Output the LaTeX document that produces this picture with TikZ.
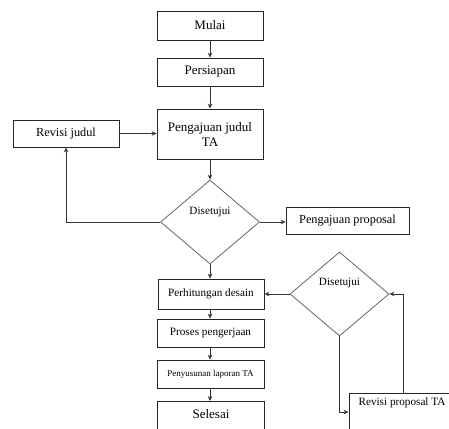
\documentclass[tikz,border=0pt]{standalone}
\usepackage{fontspec}
\setmainfont{Liberation Serif}
\usetikzlibrary{shapes.geometric,arrows.meta}
\begin{document}
\begin{tikzpicture}[x=1pt,y=-1pt,
  box/.style={draw=black!85,line width=0.8pt,rectangle,inner sep=0pt,font=\fontsize{13}{14}\selectfont},
  dia/.style={draw=black!60,line width=0.8pt,diamond,inner sep=0pt,aspect=1.2},
  lbl/.style={inner sep=0pt,font=\fontsize{11.2}{13}\selectfont},
  conn/.style={draw=black!80,line width=0.8pt,-{Stealth[length=5pt,width=4.5pt]}},
  line/.style={draw=black!70,line width=0.8pt}]
\useasboundingbox (0,0) rectangle (449,428);
\clip (0,0) rectangle (449,428);
\fill[white] (0,0) rectangle (449,428);
% boxes
\node[box,minimum width=106,minimum height=29] (mulai) at (210,25.5) {Mulai};
\node[box,minimum width=106,minimum height=28] (persiapan) at (210,72) {Persiapan};
\node[box,minimum width=106,minimum height=50,align=center,font=\fontsize{13}{17}\selectfont] (pengajuan) at (210,134) {Pengajuan judul\\[-2pt]TA};
\node[box,minimum width=106,minimum height=27,font=\fontsize{12.3}{14}\selectfont] (revisijudul) at (66,133.5) {Revisi judul};
\node[dia,minimum width=99,minimum height=84] (d1) at (210,222) {};
\node[lbl] (d1text) at (210,212) {Disetujui};
\node[box,minimum width=123,minimum height=27,font=\fontsize{12.3}{14}\selectfont] (proposal) at (347.5,220.5) {Pengajuan proposal};
\node[box,minimum width=106,minimum height=30,font=\fontsize{11.2}{13}\selectfont] (perhitungan) at (211,294) {Perhitungan desain};
\node[box,minimum width=107,minimum height=28,font=\fontsize{11.2}{13}\selectfont] (proses) at (210.5,333) {Proses pengerjaan};
\node[box,minimum width=107,minimum height=28,font=\fontsize{9}{11}\selectfont] (penyusunan) at (210.5,374) {Penyusunan laporan TA};
\node[box,minimum width=107,minimum height=40,anchor=north] (selesai) at (210.5,401) {};
\node[inner sep=0pt,font=\fontsize{13}{14}\selectfont] (selesaitext) at (211,414) {Selesai};
\node[dia,minimum width=99,minimum height=84] (d2) at (339.5,294) {};
\node[lbl] (d2text) at (339.5,283) {Disetujui};
\node[box,minimum width=108,minimum height=38] (revprop) at (403,412) {};
\node[lbl] (revproptext) at (402,403) {Revisi proposal TA};
% connectors
\draw[conn] (mulai) -- (persiapan);
\draw[conn] (persiapan) -- (pengajuan);
\draw[conn] (pengajuan) -- (d1);
\draw[conn] (revisijudul.east) -- (revisijudul.east -| pengajuan.west);
\draw[conn] (d1.west) -| (revisijudul.south);
\draw[conn] (d1.east) -- (d1.east -| proposal.west);
\draw[conn] (d1.south) -- (d1.south |- perhitungan.north);
\draw[conn] (perhitungan.south -| d1.south) -- (proses.north -| d1.south);
\draw[conn] (proses.south -| d1.south) -- (penyusunan.north -| d1.south);
\draw[conn] (penyusunan.south -| d1.south) -- (selesai.north -| d1.south);
\draw[conn] (d2.west) -- (perhitungan.east |- d2.west);
\draw[conn] (d2.south) |- (revprop.west);
\draw[conn] (revprop.north) |- (d2.east);
\end{tikzpicture}
\end{document}
